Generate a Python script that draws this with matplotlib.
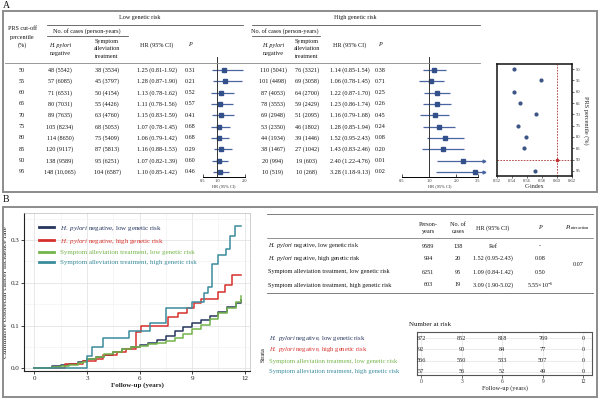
import numpy as np
import matplotlib
matplotlib.use("Agg")
import matplotlib.pyplot as plt
from matplotlib.lines import Line2D
from matplotlib.patches import Rectangle

plt.rcParams['font.family'] = ['Liberation Serif', 'DejaVu Serif']
plt.rcParams['mathtext.fontset'] = 'custom'
plt.rcParams['mathtext.rm'] = 'Liberation Serif'
plt.rcParams['mathtext.it'] = 'Liberation Serif:italic'
plt.rcParams['mathtext.bf'] = 'Liberation Serif:bold'

# ---------------- data ----------------
percentiles = [50, 55, 60, 65, 70, 75, 80, 85, 90, 95]
low_hp_cases = [48, 57, 71, 80, 89, 105, 114, 120, 138, 148]
low_hp_py = [5542, 6085, 6531, 7031, 7635, 8234, 8650, 9117, 9589, 10065]
low_sym_cases = [38, 45, 50, 55, 63, 68, 75, 87, 95, 104]
low_sym_py = [3534, 3797, 4154, 4426, 4760, 5053, 5409, 5813, 6251, 6587]
low_hr = [1.25, 1.28, 1.13, 1.11, 1.15, 1.07, 1.06, 1.16, 1.07, 1.10]
low_lo = [0.81, 0.87, 0.78, 0.78, 0.83, 0.78, 0.79, 0.88, 0.82, 0.85]
low_hi = [1.92, 1.90, 1.62, 1.56, 1.59, 1.45, 1.42, 1.53, 1.39, 1.42]
low_p = ["0.31", "0.21", "0.52", "0.57", "0.41", "0.68", "0.68", "0.29", "0.60", "0.46"]

high_hp_cases = [110, 101, 87, 78, 69, 53, 44, 38, 20, 10]
high_hp_py = [5041, 4498, 4053, 3553, 2948, 2350, 1934, 1467, 994, 519]
high_sym_cases = [76, 69, 64, 59, 51, 46, 39, 27, 19, 10]
high_sym_py = [3321, 3058, 2700, 2429, 2095, 1802, 1446, 1042, 603, 268]
high_hr = [1.14, 1.06, 1.22, 1.23, 1.16, 1.28, 1.52, 1.43, 2.40, 3.28]
high_lo = [0.85, 0.78, 0.87, 0.86, 0.79, 0.85, 0.95, 0.83, 1.22, 1.18]
high_hi = [1.54, 1.45, 1.70, 1.74, 1.68, 1.94, 2.43, 2.46, 4.76, 9.13]
high_p = ["0.38", "0.71", "0.25", "0.26", "0.45", "0.24", "0.08", "0.20", "0.01", "0.02"]

c_index = [0.543, 0.578, 0.543, 0.551, 0.572, 0.548, 0.558, 0.556, 0.600, 0.571]
best_percentile = 90
best_cindex = 0.600

group_labels = [r"$\it{H.\ pylori}$ negative, low genetic risk",
                r"$\it{H.\ pylori}$ negative, high genetic risk",
                "Symptom alleviation treatment, low genetic risk",
                "Symptom alleviation treatment, high genetic risk"]
group_colors = ['#27365e', '#d6302b', '#74b44a', '#3a8c9c']

navy_t = [0, 0.5, 1.0, 1.5, 2.0, 2.5, 2.8, 3.0, 3.5, 4.0, 4.5, 5.0, 5.5, 6.0, 6.5, 7.0, 7.5, 8.0,
          8.5, 9.0, 9.5, 10.0, 10.5, 11.0, 11.5, 11.8]
navy_v = [0, 0.002, 0.005, 0.008, 0.011, 0.014, 0.017, 0.021, 0.026, 0.032, 0.038, 0.045, 0.050,
          0.055, 0.060, 0.066, 0.076, 0.087, 0.096, 0.105, 0.112, 0.122, 0.132, 0.144, 0.152, 0.160]
red_t = [0, 1.75, 2.8, 3.5, 3.9, 4.7, 5.2, 5.8, 6.1, 7.6, 8.2, 8.7, 9.1, 9.5, 10.5, 10.9, 11.3, 11.8]
red_v = [0, 0.010, 0.018, 0.023, 0.031, 0.038, 0.045, 0.085, 0.098, 0.120, 0.130, 0.142, 0.153,
         0.163, 0.178, 0.196, 0.218, 0.218]
green_t = [0, 0.5, 1.0, 1.5, 2.0, 2.5, 2.8, 3.0, 3.5, 4.0, 4.5, 5.0, 5.5, 6.0, 6.5, 7.0, 7.5, 8.0,
           8.5, 9.0, 9.5, 10.0, 10.5, 11.0, 11.5, 11.8]
green_v = [0, 0.002, 0.004, 0.006, 0.009, 0.012, 0.015, 0.021, 0.027, 0.033, 0.039, 0.045, 0.049,
           0.052, 0.056, 0.060, 0.064, 0.072, 0.080, 0.092, 0.102, 0.115, 0.130, 0.140, 0.155, 0.170]
teal_t = [0, 2.8, 3.0, 3.3, 3.9, 5.4, 6.6, 7.5, 9.0, 9.7, 9.9, 10.15, 10.45, 10.95, 11.15, 11.45, 11.8]
teal_v = [0, 0, 0.030, 0.050, 0.070, 0.088, 0.105, 0.140, 0.155, 0.175, 0.190, 0.245, 0.265,
          0.280, 0.310, 0.333, 0.333]
km_times = [navy_t, red_t, green_t, teal_t]
km_vals = [navy_v, red_v, green_v, teal_v]

tab_py = [9589, 994, 6251, 603]
tab_cases = [138, 20, 95, 19]
tab_hr = ["Ref", "1.52 (0.95-2.43)", "1.09 (0.84-1.42)", "3.09 (1.90-5.02)"]
tab_p = ["-", "0.08", "0.50", r"5.55$\times$10$^{-6}$"]
p_interaction = "0.07"

risk_times = [0, 3, 6, 9, 12]
risk_counts = [[872, 852, 818, 769, 0],
               [92, 90, 84, 77, 0],
               [566, 550, 533, 507, 0],
               [57, 56, 52, 49, 0]]

# ---------------- helpers ----------------
W, H = 600, 400
fig = plt.figure(figsize=(6, 4), dpi=100)
fig.patch.set_facecolor('white')

def fx(x): return x / W
def fy(y): return 1 - y / H

TXT = '#141414'
FS = 4.4

def T(x, y, s, ha='center', va='center', fs=FS, **kw):
    kw.setdefault('color', TXT)
    fig.text(fx(x), fy(y), s, ha=ha, va=va, fontsize=fs, **kw)

def L(x0, x1, y0, y1, color='#555555', lw=0.6):
    fig.add_artist(Line2D([fx(x0), fx(x1)], [fy(y0), fy(y1)], transform=fig.transFigure,
                          color=color, lw=lw))

def axpx(x0, y0, x1, y1):
    return fig.add_axes([fx(x0), fy(y1), (x1 - x0) / W, (y1 - y0) / H])

def fmt_py(v):
    return f"{v:,}" if v >= 10000 else str(v)

# ---------------- panel boxes ----------------
for (y0, y1) in [(11, 192), (207, 397)]:
    fig.add_artist(Rectangle((fx(3), fy(y1)), (594) / W, (y1 - y0) / H, transform=fig.transFigure,
                             fill=False, edgecolor='#8c8c8c', lw=1.4))
T(3, 5, "A", ha='left', fs=7)
T(3, 200, "B", ha='left', fs=7)

# ---------------- panel A tables ----------------
row_y0, row_dy = 70, 11.33
T(22, 29, "PRS cut-off")
T(22, 37, "percentile")
T(22, 45, "(%)")
T(140, 17, "Low genetic risk")
L(47, 243, 25, 25)
T(87, 31, "No. of cases (person-years)")
L(47, 128, 36, 36)
T(60, 45, "H. pylori", style='italic')
T(60, 53, "negative")
T(107, 41, "Symptom")
T(107, 49, "alleviation")
T(107, 57, "treatment")
T(157, 45, "HR (95% CI)")
T(190, 45, "P", style='italic')

T(355, 17, "High genetic risk")
L(252, 480, 25, 25)
T(285, 31, "No. of cases (person-years)")
L(252, 320, 36, 36)
T(273, 45, "H. pylori", style='italic')
T(273, 53, "negative")
T(307, 41, "Symptom")
T(307, 49, "alleviation")
T(307, 57, "treatment")
T(350, 45, "HR (95% CI)")
T(380, 45, "P", style='italic')
L(5, 480, 63, 63, color='#888888', lw=0.6)

for i, pc in enumerate(percentiles):
    y = row_y0 + i * row_dy
    T(22, y, str(pc))
    T(60, y, f"{low_hp_cases[i]} ({fmt_py(low_hp_py[i])})")
    T(107, y, f"{low_sym_cases[i]} ({fmt_py(low_sym_py[i])})")
    T(157, y, f"{low_hr[i]:.2f} ({low_lo[i]:.2f}-{low_hi[i]:.2f})")
    T(190, y, low_p[i])
    T(273, y, f"{high_hp_cases[i]} ({fmt_py(high_hp_py[i])})")
    T(307, y, f"{high_sym_cases[i]} ({fmt_py(high_sym_py[i])})")
    T(350, y, f"{high_hr[i]:.2f} ({high_lo[i]:.2f}-{high_hi[i]:.2f})")
    T(380, y, high_p[i])

# ---------------- forest plots ----------------
FC_LINE = '#4a66a0'
FC_BOX = '#34508a'
rows = np.arange(len(percentiles))

def forest(ax, hr, lo, hi, cap, ticks, ticklabels):
    for r in rows:
        upper = min(hi[r], cap)
        ax.plot([lo[r], upper], [r, r], color=FC_LINE, lw=0.9, clip_on=False, solid_capstyle='butt')
        if hi[r] > cap:
            ax.plot([upper], [r], marker='>', ms=2, color=FC_LINE, clip_on=False)
    ax.plot(hr, rows, 's', color=FC_BOX, ms=3.2, clip_on=False)
    ax.axvline(1.0, color='#333333', lw=0.7)
    ax.set_ylim(9.44, -1.15)
    ax.set_yticks([])
    for s in ['top', 'right', 'left']:
        ax.spines[s].set_visible(False)
    ax.spines['bottom'].set_linewidth(0.7)
    ax.set_xticks(ticks)
    ax.set_xticklabels(ticklabels)
    ax.tick_params(axis='x', direction='in', length=2, width=0.6, labelsize=3.2, pad=1.2,
                   colors='#333333')
    ax.set_xlabel("HR (95% CI)", fontsize=3.2, labelpad=1, color='#333333')
    ax.patch.set_alpha(0)

axL = axpx(203, 57, 245, 177)
axL.set_xlim(0.5, 2.0)
forest(axL, low_hr, low_lo, low_hi, 2.0, [0.5, 1.0, 2.0], ["0.5", "1.0", "2.0"])

axR = axpx(402, 57, 478, 177)
axR.set_xscale('log', base=2)
axR.set_xlim(0.5, 3.5)
forest(axR, high_hr, high_lo, high_hi, 4.1, [0.5, 1.0, 2.0, 3.5], ["0.5", "1.0", "2.0", "3.5"])
axR.xaxis.set_minor_locator(matplotlib.ticker.NullLocator())

# ---------------- C-index ----------------
axC = axpx(497, 64, 572, 176)
pts = [i for i, p in enumerate(percentiles) if p != best_percentile]
axC.plot([c_index[i] for i in pts], [percentiles[i] for i in pts], 'o', color='#3d5585', ms=2.0)
axC.axvline(best_cindex, color='#a83232', lw=0.6, ls=(0, (2, 1.5)))
axC.axhline(best_percentile, color='#a83232', lw=0.6, ls=(0, (2, 1.5)))
axC.plot([best_cindex], [best_percentile], 'o', color='#c03030', ms=1.6)
axC.set_xlim(0.52, 0.62)
axC.set_ylim(97.3, 47.7)
axC.set_xticks([0.52, 0.54, 0.56, 0.58, 0.60, 0.62])
axC.set_xticklabels(["0.52", "0.54", "0.56", "0.58", "0.60", "0.62"])
axC.set_yticks(percentiles)
axC.yaxis.tick_right()
axC.yaxis.set_label_position('right')
axC.tick_params(labelsize=3.3, length=1.5, width=0.5, pad=1, colors='#333333')
axC.set_xlabel("C-index", fontsize=4.3, labelpad=0.5, color='#222222')
axC.set_ylabel("PRS percentile (%)", fontsize=4.5, rotation=270, labelpad=6, color='#222222')
for s in axC.spines.values():
    s.set_linewidth(1.1)
    s.set_color('#111111')

# ---------------- KM plot ----------------
axK = axpx(24, 213, 250, 371)
for t, v, c in zip(km_times, km_vals, group_colors):
    axK.plot(t, v, drawstyle='steps-post', color=c, lw=1.1)
axK.set_xlim(-0.59, 12.3)
axK.set_ylim(-0.006, 0.363)
axK.set_xticks([0, 3, 6, 9, 12])
axK.set_yticks([0.0, 0.1, 0.2, 0.3])
axK.set_yticklabels(["0.0", "0.1", "0.2", "0.3"])
axK.set_xticks([1.5, 4.5, 7.5, 10.5], minor=True)
axK.set_yticks([0.05, 0.15, 0.25, 0.35], minor=True)
axK.grid(True, which='major', color='#dedede', lw=0.5)
axK.grid(True, which='minor', color='#efefef', lw=0.4)
axK.set_axisbelow(True)
axK.tick_params(which='major', labelsize=5, length=2, width=0.6, pad=1.5, colors='#222222')
axK.tick_params(which='minor', length=0)
for s in ['top', 'right']:
    axK.spines[s].set_color('#bbbbbb')
    axK.spines[s].set_linewidth(0.5)
for s in ['left', 'bottom']:
    axK.spines[s].set_color('#222222')
    axK.spines[s].set_linewidth(0.8)
axK.set_xlabel("Follow-up (years)", fontsize=5, fontweight='bold', labelpad=1, color='#222222')
axK.set_ylabel("Cumulative colorectal cancer incidence rate", fontsize=5.4, labelpad=2,
               color='#1a1a1a')
handles = [Line2D([0], [0], color=c, lw=2.0) for c in group_colors]
leg = axK.legend(handles, group_labels, loc='upper left', bbox_to_anchor=(fx(36), fy(221)),
                 bbox_transform=fig.transFigure, frameon=False, fontsize=5.0,
                 handlelength=2.2, handletextpad=0.8, labelspacing=0.55, borderaxespad=0)
for txt, c in zip(leg.get_texts(), group_colors):
    txt.set_color(c)

# ---------------- B table ----------------
L(267, 593, 214, 214, color='#666666', lw=0.6)
L(267, 593, 238, 238, color='#666666', lw=0.5)
L(267, 593, 293, 293, color='#666666', lw=0.6)
T(428, 224.5, "Person-")
T(428, 231.5, "years")
T(458, 224.5, "No. of")
T(458, 231.5, "cases")
T(493, 228, "HR (95% CI)")
T(540, 228, "P", style='italic')
T(578, 228, r"$P_{\rm interaction}$", fs=4.6)
tab_rows_y = [246, 258.5, 272, 285]
for i, y in enumerate(tab_rows_y):
    T(268, y, group_labels[i], ha='left', fs=4.5)
    T(428, y, str(tab_py[i]))
    T(458, y, str(tab_cases[i]))
    T(493, y, tab_hr[i])
    T(540, y, tab_p[i])
T(578, 265, p_interaction)

# ---------------- number at risk ----------------
T(430, 325, "Number at risk", fs=5)
axN = axpx(417, 332, 592, 375)
risk_rows = np.arange(len(risk_counts))
for r in risk_rows:
    for j, tm in enumerate(risk_times):
        axN.text(tm, r, str(risk_counts[r][j]), ha='center', va='center', fontsize=4.5,
                 color='#222222')
axN.set_xlim(-0.3, 12.64)
axN.set_ylim(3.3, -0.57)
axN.set_xticks(risk_times)
axN.set_yticks(risk_rows)
axN.set_yticklabels([])
axN.grid(True, color='#e4e4e4', lw=0.5)
axN.tick_params(axis='y', length=0)
axN.tick_params(axis='x', labelsize=4, length=2, width=0.5, pad=1, colors='#333333')
axN.set_xlabel("Follow-up (years)", fontsize=4.6, labelpad=0.5, color='#222222')
for s in axN.spines.values():
    s.set_color('#555555')
    s.set_linewidth(0.8)
strata_y = [338.3, 350, 361, 371.7]
for i, y in enumerate(strata_y):
    T(269, y, group_labels[i], ha='left', fs=4.8, color=group_colors[i])
T(263, 355, "Strata", fs=4.5, rotation=90)

fig.savefig("out.png", dpi=100, facecolor='white')
